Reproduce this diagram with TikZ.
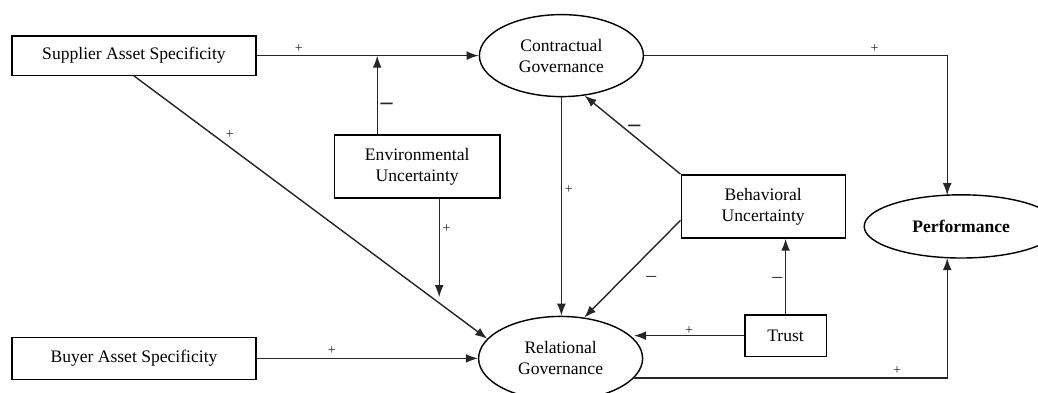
\documentclass[tikz,border=0pt]{standalone}
\usepackage{fontspec}
\setmainfont{Liberation Serif}
\usepackage{tikz}
\usetikzlibrary{arrows.meta,positioning,calc,shapes.geometric}

\begin{document}
\begin{tikzpicture}[
  font=\fontsize{12.5}{15}\selectfont,
  box/.style={draw,line width=1pt,minimum height=9.8mm,minimum width=61mm,align=center,inner sep=0pt},
  oval/.style={draw,ellipse,line width=1pt,minimum width=41mm,minimum height=20.5mm,align=center,inner sep=0pt},
  arr/.style={-{Latex[length=3mm,width=2.2mm]},line width=1pt,black!85},
  pl/.style={font=\normalsize,inner sep=2pt},
  mn/.style={font=\bfseries\fontsize{17}{17}\selectfont,inner sep=2pt},
  mt/.style={font=\fontsize{14}{14}\selectfont,inner sep=2pt}
]
  \useasboundingbox (0,0) rectangle (25.95,-9.8);
  \node[box] (sup) at (3.35,-1.39) {Supplier Asset Specificity};
  \node[box,minimum height=10.5mm,below=6.52cm of sup] (buy) {Buyer Asset Specificity};
  \node[oval,right=5.55cm of sup] (con) {Contractual\\Governance};
  \node[oval,minimum height=21mm,right=5.53cm of buy] (rel) {Relational\\Governance};
  \node[box,minimum width=41.3mm,minimum height=15.8mm] (env) at (10.43,-4.16) {Environmental\\Uncertainty};
  \node[box,minimum width=41mm,minimum height=15.8mm] (beh) at (19.08,-5.16) {Behavioral\\Uncertainty};
  \node[box,minimum width=20.3mm,minimum height=10.3mm] (tru) at (19.64,-8.39) {Trust};
  \node[oval,minimum width=48.5mm,minimum height=15.8mm,font=\fontsize{12.5}{15}\selectfont\bfseries] (perf) at (24.03,-5.66) {Performance};
  \coordinate (jt) at (9.43,-1.39);
  \coordinate (jb) at (10.98,-7.43);
  \coordinate (pt) at (23.68,-4.88);
  \coordinate (pb) at (23.68,-6.45);
  \draw[arr] (sup)--node[pl,above,pos=0.19]{+}(con);
  \draw[arr] (env.north -| jt)--node[mn,right,pos=0.35]{--}(jt);
  \draw[arr] (env.south -| jb)--node[pl,right,pos=0.3]{+}(jb);
  \draw[arr] (sup.south)--node[pl,above right,pos=0.25]{+}(rel.165);
  \draw[arr] (con.south)--node[pl,right,pos=0.42]{+}(con.south |- rel.north);
  \draw[arr] (beh.north west)--node[mn,right,pos=0.58]{--}(con.300);
  \draw[arr] ([yshift=-3.5mm]beh.west)--node[mt,right=5mm,pos=0.6]{--}(rel.60);
  \draw[arr] (tru.north)--node[mt,left,pos=0.45]{--}(tru.north |- beh.south);
  \draw[arr] (tru.west)--node[pl,above,pos=0.5,inner sep=0pt]{+}(tru.west -| rel.15);
  \draw[arr] (buy)--node[pl,above,pos=0.34]{+}(rel);
  \draw[arr] (con.east)-|node[pl,above,pos=0.38]{+}(pt);
  \draw[arr] (rel.-15)-|node[pl,above,pos=0.42]{+}(pb);
\end{tikzpicture}
\end{document}
